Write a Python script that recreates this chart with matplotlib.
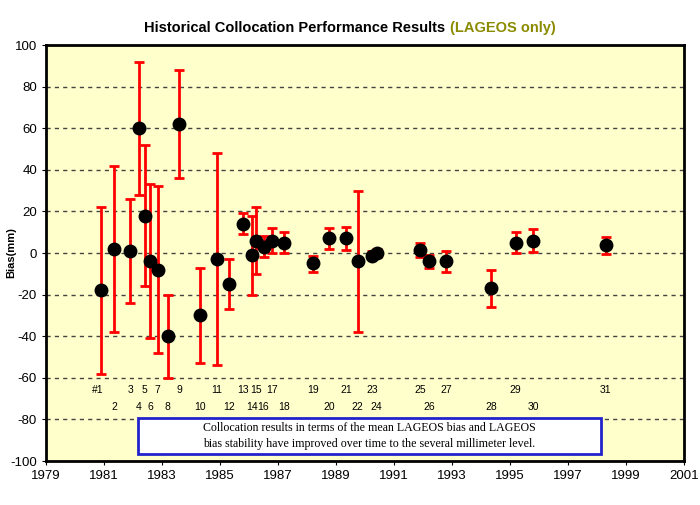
import numpy as np
import matplotlib
matplotlib.use("Agg")
from matplotlib import pyplot as plt
from matplotlib.patches import Rectangle

# collocation data (year, mean bias, error bar top / bottom in mm)
years = [1980.9, 1981.35, 1981.9, 1982.2, 1982.4, 1982.6, 1982.85, 1983.2,
         1983.6, 1984.3, 1984.9, 1985.3, 1985.8, 1986.1, 1986.25, 1986.5,
         1986.8, 1987.2, 1988.2, 1988.75, 1989.35, 1989.75, 1990.25, 1990.4,
         1991.9, 1992.2, 1992.8, 1994.35, 1995.2, 1995.8, 1998.3]
bias = [-18, 2, 1, 60, 18, -4, -8, -40,
        62, -30, -3, -15, 14, -1, 6, 3,
        6, 5, -5, 7, 7, -4, -1.5, 0,
        1.5, -4, -4, -17, 5, 6, 4]
err_top = [22, 42, 26, 92, 52, 33, 32, -20,
           88, -7, 48, -3, 19, 18, 22, 8,
           12, 10, -1.5, 12, 12.5, 30, 1, 2,
           5, -1, 1, -8, 10, 11.5, 7.5]
err_bot = [-58, -38, -24, 28, -16, -41, -48, -60,
           36, -53, -54, -27, 9, -20, -10, -2,
           0, 0, -9, 2, 1.5, -38, -3, -2,
           -2, -7, -9, -26, 0, 0.5, -0.5]
ids = [str(i) for i in range(1, 32)]
ids[0] = "#1"

note = ("Collocation results in terms of the mean LAGEOS bias and LAGEOS\n"
        "bias stability have improved over time to the several millimeter level.")

plt.rcParams['font.family'] = ['Liberation Sans', 'DejaVu Sans']
plt.rcParams['axes.unicode_minus'] = False

fig = plt.figure(figsize=(7, 5.05), dpi=100)
ax = fig.add_axes([46 / 700, 1 - 461 / 505, 638 / 700, 416 / 505])
ax.set_facecolor('#FFFFCC')

bias = np.array(bias)
yerr = np.vstack([bias - np.array(err_bot), np.array(err_top) - bias])
ax.errorbar(years, bias, yerr=yerr, fmt='o', color='black', markersize=9,
            ecolor='red', elinewidth=2, capsize=3.5, capthick=2, zorder=3)

for i, (x, lab) in enumerate(zip(years, ids)):
    yl = -66 if i % 2 == 0 else -74
    xo = x - 0.12 if i == 0 else x
    ax.text(xo, yl, lab, fontsize=7.5, ha='center', va='center')

ax.set_xlim(1979, 2001)
ax.set_ylim(-100, 100)
ax.set_xticks(range(1979, 2002, 2))
ax.set_yticks(range(-100, 101, 20))
ax.tick_params(labelsize=9.5, length=3, direction='out')
ax.yaxis.grid(True, linestyle=(0, (3, 3)), color='#444444', linewidth=1)
ax.set_axisbelow(True)
for s in ax.spines.values():
    s.set_linewidth(2)

ax.set_ylabel("Bias(mm)", fontsize=8, fontweight='bold')
ax.yaxis.set_label_coords(-0.046, 0.5)

# note box
ax.add_patch(Rectangle((1982.17, -96.6), 15.97, 17.3, fc='white',
                       ec='#2222CC', lw=2, zorder=4))
ax.text(1990.15, -88, note, fontsize=8.6, family='Liberation Serif',
        ha='center', va='center', linespacing=1.35, zorder=5)

t1 = fig.text(0.5, 1 - 28 / 505, "Historical Collocation Performance Results ",
              fontsize=10.5, fontweight='bold', ha='right', va='center')
t2 = fig.text(0.5, 1 - 28 / 505, "(LAGEOS only)", fontsize=10.5,
              fontweight='bold', color='#8B8B00', ha='left', va='center')
fig.canvas.draw()
# centre black and coloured parts together as one title
w1 = t1.get_window_extent().width
w2 = t2.get_window_extent().width
shift = (w1 - w2) / 2 / 700
t1.set_x(0.5 + shift)
t2.set_x(0.5 + shift)

fig.savefig("out.png", dpi=100)
